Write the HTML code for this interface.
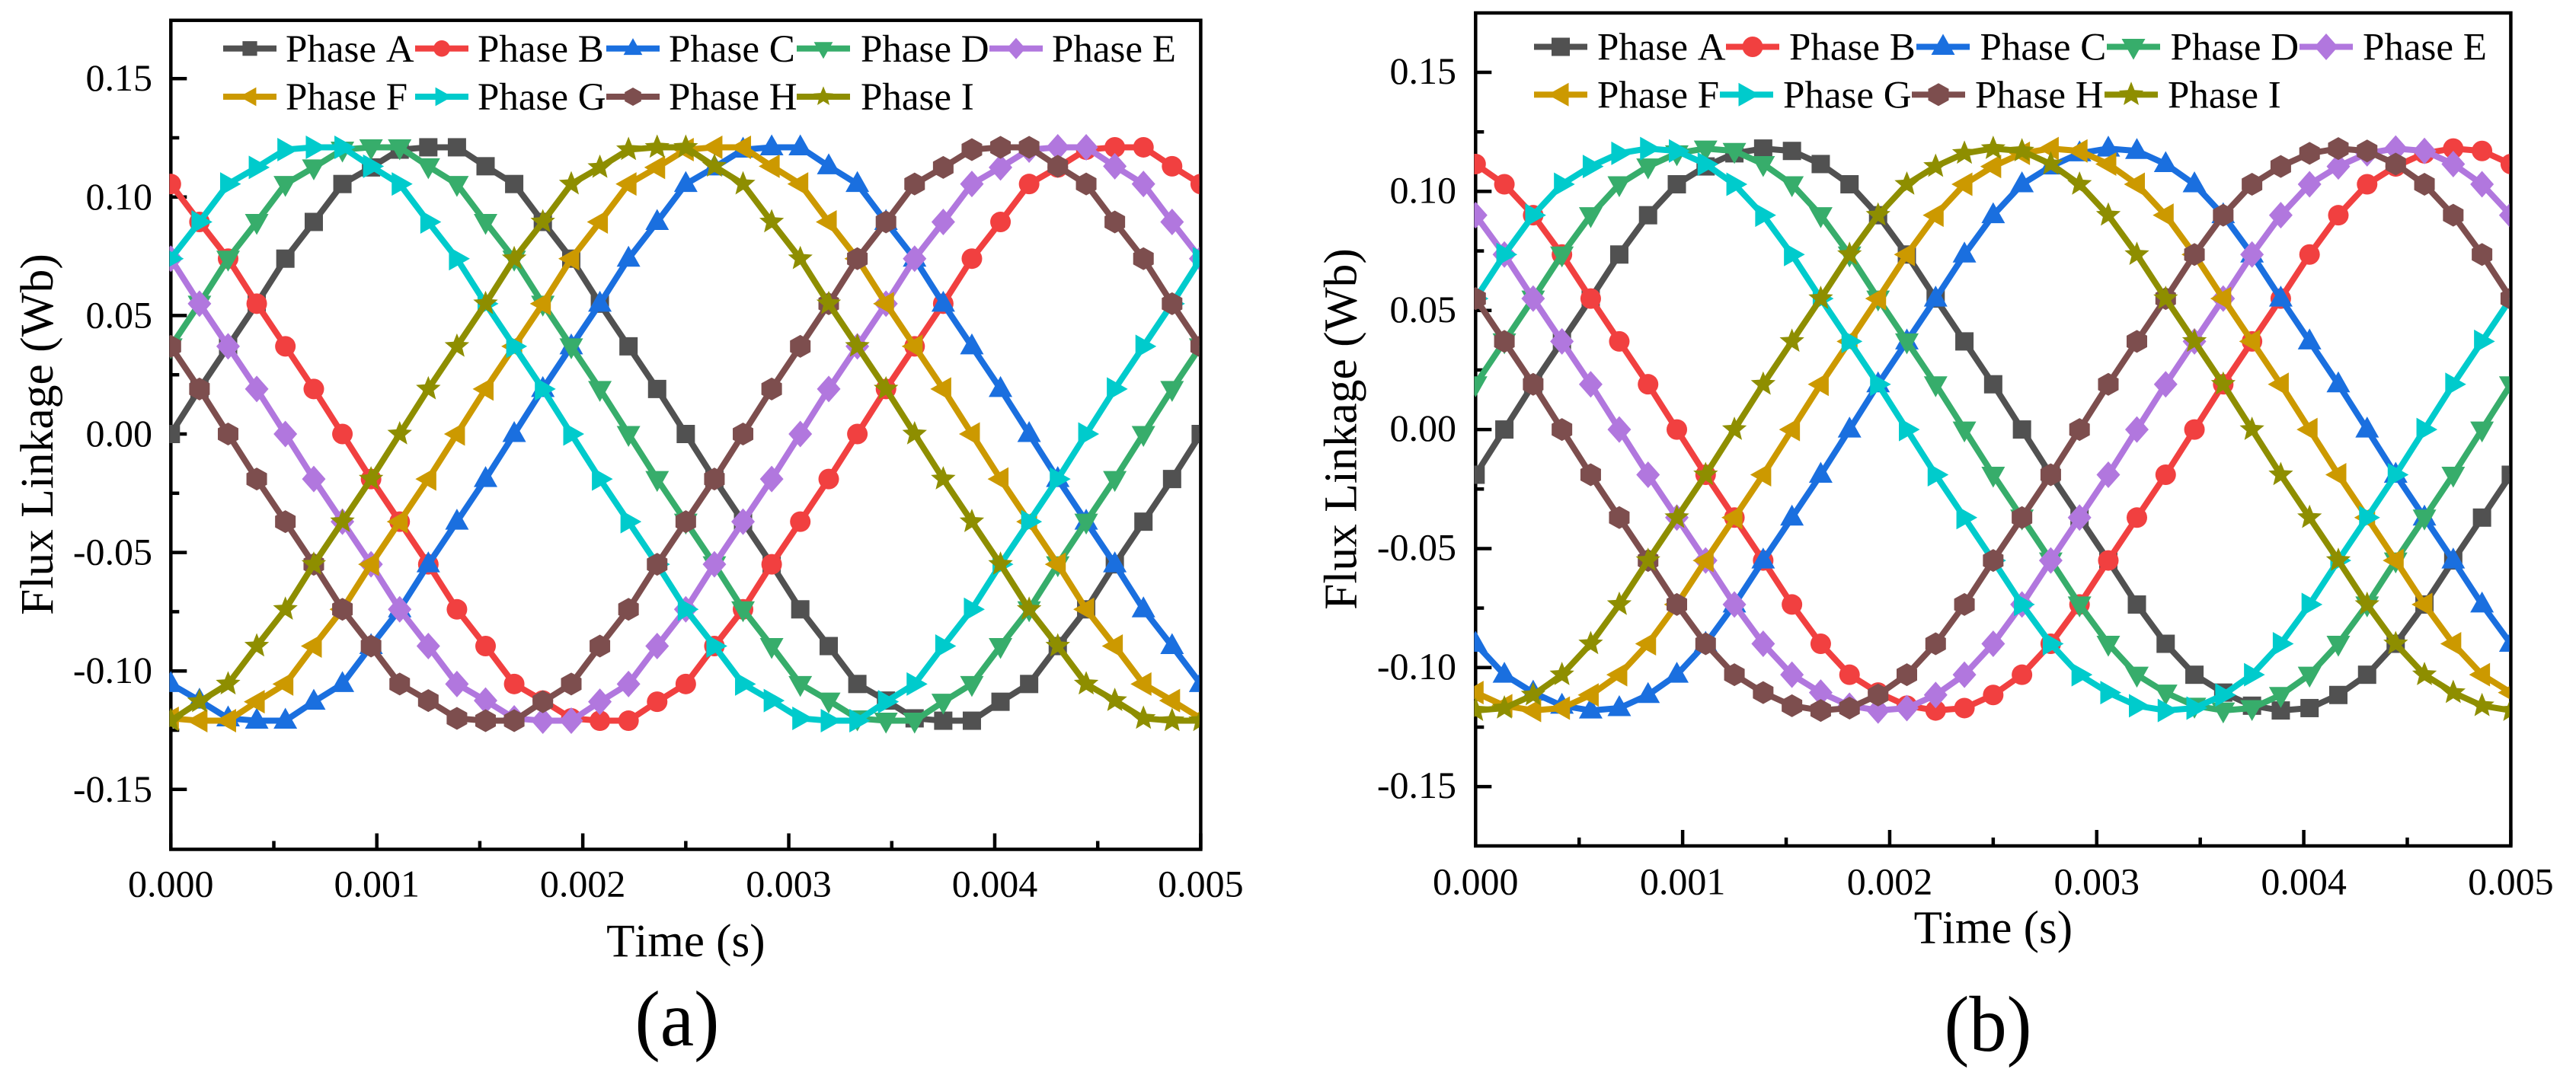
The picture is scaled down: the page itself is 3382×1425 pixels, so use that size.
<!DOCTYPE html>
<html lang="en">
<head>
<meta charset="utf-8">
<title>Flux Linkage per Phase</title>
<style>
html,body{margin:0;padding:0;background:#fff;}
body{width:3382px;height:1425px;overflow:hidden;}
svg{display:block;font-family:"Liberation Serif",serif;fill:#000;font-kerning:none;}
</style>
</head>
<body>
<svg id="figure" xmlns="http://www.w3.org/2000/svg" width="3382" height="1425" viewBox="0 0 3382 1425"></svg>
<script>
/* ---------- shared data ---------- */
const timeValues = [0,0.000139,0.000278,0.000417,0.000556,0.000694,0.000833,0.000972,0.001111,0.00125,0.001389,0.001528,0.001667,0.001806,0.001944,0.002083,0.002222,0.002361,0.0025,0.002639,0.002778,0.002917,0.003056,0.003194,0.003333,0.003472,0.003611,0.00375,0.003889,0.004028,0.004167,0.004306,0.004444,0.004583,0.004722,0.004861,0.005];
const phaseNames = ['Phase A','Phase B','Phase C','Phase D','Phase E','Phase F','Phase G','Phase H','Phase I'];
const xTickValues = [0,0.001,0.002,0.003,0.004,0.005];
const xTickLabels = ['0.000','0.001','0.002','0.003','0.004','0.005'];
const xMinorTickValues = [0.0005,0.0015,0.0025,0.0035,0.0045];
const yTickValues = [0.15,0.1,0.05,0,-0.05,-0.1,-0.15];
const yTickLabels = ['0.15','0.10','0.05','0.00','-0.05','-0.10','-0.15'];
const yMinorTickValues = [0.125,0.075,0.025,-0.025,-0.075,-0.125];

/* ---------- panel (a) series ---------- */
const aPhaseA = [0,.019,.037,.055,.074,.0895,.1055,.1125,.12,.121,.121,.113,.1055,.0895,.074,.055,.037,.019,0,-.019,-.037,-.055,-.074,-.0895,-.1055,-.1125,-.12,-.121,-.121,-.113,-.1055,-.0895,-.074,-.055,-.037,-.019,0];
const aPhaseB = [.1055,.0895,.074,.055,.037,.019,0,-.019,-.037,-.055,-.074,-.0895,-.1055,-.1125,-.12,-.121,-.121,-.113,-.1055,-.0895,-.074,-.055,-.037,-.019,0,.019,.037,.055,.074,.0895,.1055,.1125,.12,.121,.121,.113,.1055];
const aPhaseC = [-.1055,-.1125,-.12,-.121,-.121,-.113,-.1055,-.0895,-.074,-.055,-.037,-.019,0,.019,.037,.055,.074,.0895,.1055,.1125,.12,.121,.121,.113,.1055,.0895,.074,.055,.037,.019,0,-.019,-.037,-.055,-.074,-.0895,-.1055];
const aPhaseD = [.037,.055,.074,.0895,.1055,.1125,.12,.121,.121,.113,.1055,.0895,.074,.055,.037,.019,0,-.019,-.037,-.055,-.074,-.0895,-.1055,-.1125,-.12,-.121,-.121,-.113,-.1055,-.0895,-.074,-.055,-.037,-.019,0,.019,.037];
const aPhaseE = [.074,.055,.037,.019,0,-.019,-.037,-.055,-.074,-.0895,-.1055,-.1125,-.12,-.121,-.121,-.113,-.1055,-.0895,-.074,-.055,-.037,-.019,0,.019,.037,.055,.074,.0895,.1055,.1125,.12,.121,.121,.113,.1055,.0895,.074];
const aPhaseF = [-.12,-.121,-.121,-.113,-.1055,-.0895,-.074,-.055,-.037,-.019,0,.019,.037,.055,.074,.0895,.1055,.1125,.12,.121,.121,.113,.1055,.0895,.074,.055,.037,.019,0,-.019,-.037,-.055,-.074,-.0895,-.1055,-.1125,-.12];
const aPhaseG = [.074,.0895,.1055,.1125,.12,.121,.121,.113,.1055,.0895,.074,.055,.037,.019,0,-.019,-.037,-.055,-.074,-.0895,-.1055,-.1125,-.12,-.121,-.121,-.113,-.1055,-.0895,-.074,-.055,-.037,-.019,0,.019,.037,.055,.074];
const aPhaseH = [.037,.019,0,-.019,-.037,-.055,-.074,-.0895,-.1055,-.1125,-.12,-.121,-.121,-.113,-.1055,-.0895,-.074,-.055,-.037,-.019,0,.019,.037,.055,.074,.0895,.1055,.1125,.12,.121,.121,.113,.1055,.0895,.074,.055,.037];
const aPhaseI = [-.121,-.113,-.1055,-.0895,-.074,-.055,-.037,-.019,0,.019,.037,.055,.074,.0895,.1055,.1125,.12,.121,.121,.113,.1055,.0895,.074,.055,.037,.019,0,-.019,-.037,-.055,-.074,-.0895,-.1055,-.1125,-.12,-.121,-.121];

/* ---------- panel (b) series ---------- */
const bPhaseA = [-.019,0,.019,.037,.055,.0735,.09,.103,.1105,.116,.118,.117,.1115,.103,.09,.0735,.055,.037,.019,0,-.019,-.037,-.055,-.0735,-.09,-.103,-.1105,-.116,-.118,-.117,-.1115,-.103,-.09,-.0735,-.055,-.037,-.019];
const bPhaseB = [.1115,.103,.09,.0735,.055,.037,.019,0,-.019,-.037,-.055,-.0735,-.09,-.103,-.1105,-.116,-.118,-.117,-.1115,-.103,-.09,-.0735,-.055,-.037,-.019,0,.019,.037,.055,.0735,.09,.103,.1105,.116,.118,.117,.1115];
const bPhaseC = [-.09,-.103,-.1105,-.116,-.118,-.117,-.1115,-.103,-.09,-.0735,-.055,-.037,-.019,0,.019,.037,.055,.0735,.09,.103,.1105,.116,.118,.117,.1115,.103,.09,.0735,.055,.037,.019,0,-.019,-.037,-.055,-.0735,-.09];
const bPhaseD = [.019,.037,.055,.0735,.09,.103,.1105,.116,.118,.117,.1115,.103,.09,.0735,.055,.037,.019,0,-.019,-.037,-.055,-.0735,-.09,-.103,-.1105,-.116,-.118,-.117,-.1115,-.103,-.09,-.0735,-.055,-.037,-.019,0,.019];
const bPhaseE = [.09,.0735,.055,.037,.019,0,-.019,-.037,-.055,-.0735,-.09,-.103,-.1105,-.116,-.118,-.117,-.1115,-.103,-.09,-.0735,-.055,-.037,-.019,0,.019,.037,.055,.0735,.09,.103,.1105,.116,.118,.117,.1115,.103,.09];
const bPhaseF = [-.1105,-.116,-.118,-.117,-.1115,-.103,-.09,-.0735,-.055,-.037,-.019,0,.019,.037,.055,.0735,.09,.103,.1105,.116,.118,.117,.1115,.103,.09,.0735,.055,.037,.019,0,-.019,-.037,-.055,-.0735,-.09,-.103,-.1105];
const bPhaseG = [.055,.0735,.09,.103,.1105,.116,.118,.117,.1115,.103,.09,.0735,.055,.037,.019,0,-.019,-.037,-.055,-.0735,-.09,-.103,-.1105,-.116,-.118,-.117,-.1115,-.103,-.09,-.0735,-.055,-.037,-.019,0,.019,.037,.055];
const bPhaseH = [.055,.037,.019,0,-.019,-.037,-.055,-.0735,-.09,-.103,-.1105,-.116,-.118,-.117,-.1115,-.103,-.09,-.0735,-.055,-.037,-.019,0,.019,.037,.055,.0735,.09,.103,.1105,.116,.118,.117,.1115,.103,.09,.0735,.055];
const bPhaseI = [-.118,-.117,-.1115,-.103,-.09,-.0735,-.055,-.037,-.019,0,.019,.037,.055,.0735,.09,.103,.1105,.116,.118,.117,.1115,.103,.09,.0735,.055,.037,.019,0,-.019,-.037,-.055,-.0735,-.09,-.103,-.1105,-.116,-.118];

const seriesA = [aPhaseA,aPhaseB,aPhaseC,aPhaseD,aPhaseE,aPhaseF,aPhaseG,aPhaseH,aPhaseI];
const seriesB = [bPhaseA,bPhaseB,bPhaseC,bPhaseD,bPhaseE,bPhaseF,bPhaseG,bPhaseH,bPhaseI];

/* ---------- styling ---------- */
const colors = ['#515151','#F14040','#1A6FDF','#37AD6B','#B177DE','#CC9900','#00CBCC','#7D4E4E','#8E8E00'];
const markerKinds = ['square','circle','up','down','diamond','left','right','hexagon','star'];

const layoutA = {
  id:'a', label:'(a)', left:224.3, right:1576.4, top:26.7, bottom:1115.5,
  x0:224.3, xPerUnit:270420, y0:570, yPerUnit:3112,
  yLabelX:200, yLabelDy:16, xLabelY:1177.5, xTitleY:1256, yTitleX:69, yTitleY:570.5,
  panelLabelX:889, panelLabelY:1373, panelLabelLen:111,
  legendScale:0.8, legendY:[63.7,127], legendBase:[81,144],
  legendLine:[[293,545,796,1046,1299],[293,545,796,1046]],
  legendText:[[375,627,878,1130,1381],[375,627,878,1130]],
  series:seriesA
};
const layoutB = {
  id:'b', label:'(b)', left:1937.3, right:3296.4, top:17, bottom:1111,
  x0:1937.3, xPerUnit:271820, y0:564.1, yPerUnit:3127,
  yLabelX:1912, yLabelDy:15, xLabelY:1174.3, xTitleY:1238.7, yTitleX:1780.7, yTitleY:563.5,
  panelLabelX:2610, panelLabelY:1380, panelLabelLen:115,
  legendScale:1, legendY:[61.5,124.3], legendBase:[78.3,141.7],
  legendLine:[[2014,2266,2516,2766,3019],[2014,2258,2510,2763]],
  legendText:[[2097,2349,2599.5,2849.5,3102],[2097,2341,2593,2846]],
  series:seriesB
};

const NS = 'http://www.w3.org/2000/svg';
const root = document.getElementById('figure');

function make(tag, attrs, parent, text) {
  const e = document.createElementNS(NS, tag);
  for (const k in attrs) e.setAttribute(k, attrs[k]);
  if (text !== undefined) e.textContent = text;
  parent.appendChild(e);
  return e;
}

function markerShape(kind, cx, cy, s, fill, parent) {
  const poly = function (pts) {
    return make('polygon', {points: pts.map(function (p) { return (cx + p[0] * s).toFixed(2) + ',' + (cy + p[1] * s).toFixed(2); }).join(' '), fill: fill}, parent);
  };
  if (kind === 'square') return make('rect', {x: cx - 12 * s, y: cy - 12 * s, width: 24 * s, height: 24 * s, fill: fill}, parent);
  if (kind === 'circle') return make('circle', {cx: cx, cy: cy, r: 13.5 * s, fill: fill}, parent);
  if (kind === 'up') return poly([[0,-17],[15.5,10.5],[-15.5,10.5]]);
  if (kind === 'down') return poly([[0,17],[15.5,-10.5],[-15.5,-10.5]]);
  if (kind === 'left') return poly([[-17,0],[10.5,-15.5],[10.5,15.5]]);
  if (kind === 'right') return poly([[17,0],[-10.5,-15.5],[-10.5,15.5]]);
  if (kind === 'diamond') return poly([[0,-17.5],[15.5,0],[0,17.5],[-15.5,0]]);
  if (kind === 'hexagon') return poly([[0,-15],[13.5,-7.5],[13.5,7.5],[0,15],[-13.5,7.5],[-13.5,-7.5]]);
  const pts = [];
  for (let i = 0; i < 10; i++) {
    const r = i % 2 === 0 ? 17 : 7.5;
    const a = -Math.PI / 2 + i * Math.PI / 5;
    pts.push([r * Math.cos(a), r * Math.sin(a)]);
  }
  return poly(pts);
}

function drawPanel(L) {
  const xScale = function (v) { return L.x0 + v * L.xPerUnit; };
  const yScale = function (v) { return L.y0 - v * L.yPerUnit; };

  const panel = make('g', {}, root);
  
  

  const clip = make('clipPath', {id: 'clip-' + L.id}, panel);
  make('rect', {x: L.left - 1.8, y: L.top, width: L.right - L.left, height: L.bottom - L.top}, clip);

  /* axes */
  const axes = make('g', {stroke: '#000', 'stroke-width': 4.5, fill: 'none'}, panel);
  
  
  const frame = make('rect', {x: L.left, y: L.top, width: L.right - L.left, height: L.bottom - L.top}, axes);
  
  

  xTickValues.forEach(function (v, i) {
    const t = make('line', {x1: xScale(v), x2: xScale(v), y1: L.bottom, y2: L.bottom - 21}, axes);
    
    
    const lab = make('text', {x: xScale(v), y: L.xLabelY, 'font-size': 50, 'text-anchor': 'middle', stroke: 'none', fill: '#000'}, panel, xTickLabels[i]);
    
    
  });
  xMinorTickValues.forEach(function (v) {
    const t = make('line', {x1: xScale(v), x2: xScale(v), y1: L.bottom, y2: L.bottom - 11}, axes);
    
    
  });
  yTickValues.forEach(function (v, i) {
    const t = make('line', {x1: L.left, x2: L.left + 21, y1: yScale(v), y2: yScale(v)}, axes);
    
    
    const lab = make('text', {x: L.yLabelX, y: yScale(v) + L.yLabelDy, 'font-size': 50, 'text-anchor': 'end', stroke: 'none', fill: '#000'}, panel, yTickLabels[i]);
    
    
  });
  yMinorTickValues.forEach(function (v) {
    const t = make('line', {x1: L.left, x2: L.left + 11, y1: yScale(v), y2: yScale(v)}, axes);
    
    
  });

  /* titles */
  const xTitle = make('text', {x: (L.left + L.right) / 2, y: L.xTitleY, 'font-size': 61, 'text-anchor': 'middle'}, panel, 'Time (s)');
  
  
  const yTitle = make('text', {x: 0, y: 0, 'font-size': 61.5, 'text-anchor': 'middle', transform: 'translate(' + L.yTitleX + ',' + L.yTitleY + ') rotate(-90)'}, panel, 'Flux Linkage (Wb)');
  
  
  const pLabel = make('text', {x: L.panelLabelX, y: L.panelLabelY, 'font-size': 104, 'text-anchor': 'middle', textLength: L.panelLabelLen, lengthAdjust: 'spacingAndGlyphs'}, panel, L.label);
  
  

  /* series */
  const plot = make('g', {'clip-path': 'url(#clip-' + L.id + ')'}, panel);
  
  
  L.series.forEach(function (values, si) {
    const g = make('g', {}, plot);
    
    
    const pts = values.map(function (v, i) { return xScale(timeValues[i]).toFixed(2) + ',' + yScale(v).toFixed(2); }).join(' ');
    const line = make('polyline', {points: pts, fill: 'none', stroke: colors[si], 'stroke-width': 8, 'stroke-linejoin': 'round'}, g);
    
    
    values.forEach(function (v, i) {
      const m = markerShape(markerKinds[si], xScale(timeValues[i]), yScale(v), 1, colors[si], g);
      
      
    });
  });

  /* legend */
  const legend = make('g', {}, panel);
  
  
  let si = 0;
  L.legendLine.forEach(function (row, r) {
    row.forEach(function (lx, c) {
      const entry = make('g', {}, legend);
      
      
      const ly = L.legendY[r];
      make('rect', {x: lx, y: ly - 4, width: 70, height: 8, fill: colors[si]}, entry);
      markerShape(markerKinds[si], lx + 35, ly, L.legendScale, colors[si], entry);
      make('text', {x: L.legendText[r][c], y: L.legendBase[r], 'font-size': 51}, entry, phaseNames[si]);
      si++;
    });
  });
}

drawPanel(layoutA);
drawPanel(layoutB);
</script>
</body>
</html>
